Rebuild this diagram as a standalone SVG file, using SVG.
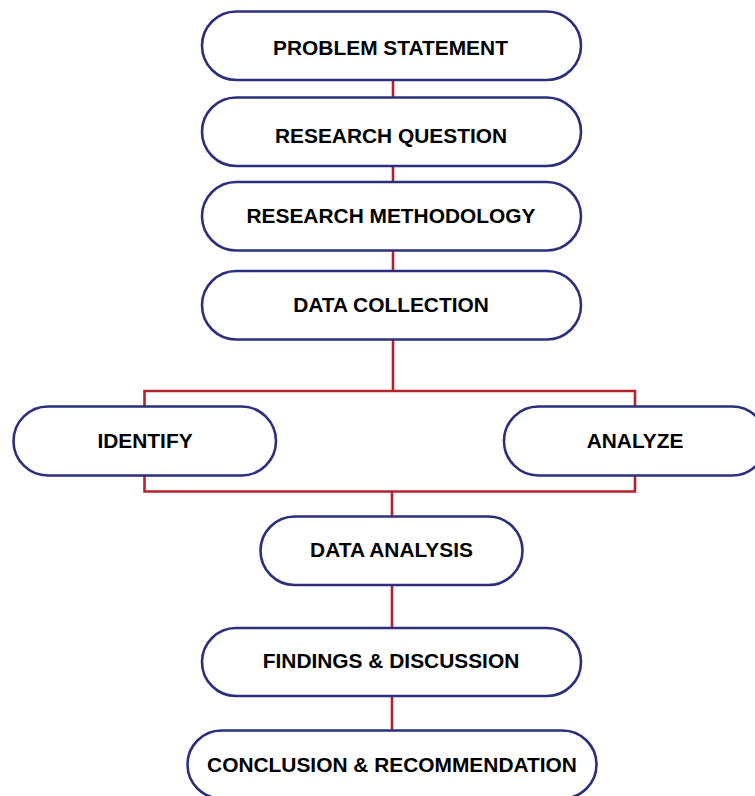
<svg xmlns="http://www.w3.org/2000/svg" width="755" height="796" viewBox="0 0 755 796">
<style>
.node rect{fill:#ffffff;stroke:#2b2f7c;stroke-width:2.6}
.node text{font-family:"Liberation Sans",Arial,sans-serif;font-weight:bold;font-size:20.9px;fill:#000000;text-anchor:middle}
.conn{fill:none;stroke:#b5222d;stroke-width:2.6}
</style>
<rect width="755" height="796" fill="#ffffff"/>
<g id="connectors">
<line class="conn" x1="393" y1="79" x2="393" y2="98"/>
<line class="conn" x1="393" y1="165" x2="393" y2="183"/>
<line class="conn" x1="393" y1="250" x2="393" y2="272"/>
<line class="conn" x1="393" y1="339" x2="393" y2="391"/>
<polyline class="conn" points="144.5,407 144.5,391 635,391 635,407"/>
<polyline class="conn" points="144.5,475 144.5,491.5 635,491.5 635,475"/>
<line class="conn" x1="392" y1="491.5" x2="392" y2="517"/>
<line class="conn" x1="392" y1="584" x2="392" y2="629"/>
<line class="conn" x1="392" y1="695" x2="392" y2="731"/>
</g>
<g id="n1" class="node"><rect x="202" y="11.5" width="379" height="68.5" rx="34.25"/><text x="390.5" y="55">PROBLEM STATEMENT</text></g>
<g id="n2" class="node"><rect x="202" y="97.5" width="379" height="68.5" rx="34.25"/><text x="391" y="143">RESEARCH QUESTION</text></g>
<g id="n3" class="node"><rect x="202" y="182" width="379" height="68.5" rx="34.25"/><text x="391" y="223">RESEARCH METHODOLOGY</text></g>
<g id="n4" class="node"><rect x="202" y="271" width="379" height="68.5" rx="34.25"/><text x="391" y="311.5">DATA COLLECTION</text></g>
<g id="n5" class="node"><rect x="13.5" y="406.5" width="262.5" height="69" rx="34.5"/><text x="145" y="448">IDENTIFY</text></g>
<g id="n6" class="node"><rect x="504" y="406.5" width="262.5" height="69" rx="34.5"/><text x="635" y="448">ANALYZE</text></g>
<g id="n7" class="node"><rect x="260.5" y="516.5" width="262" height="68.5" rx="34.25"/><text x="391.5" y="557">DATA ANALYSIS</text></g>
<g id="n8" class="node"><rect x="202" y="628" width="379" height="68" rx="34"/><text x="391" y="668">FINDINGS &amp; DISCUSSION</text></g>
<g id="n9" class="node"><rect x="187.5" y="730.5" width="409" height="68" rx="34"/><text x="392" y="771.5">CONCLUSION &amp; RECOMMENDATION</text></g>
</svg>
